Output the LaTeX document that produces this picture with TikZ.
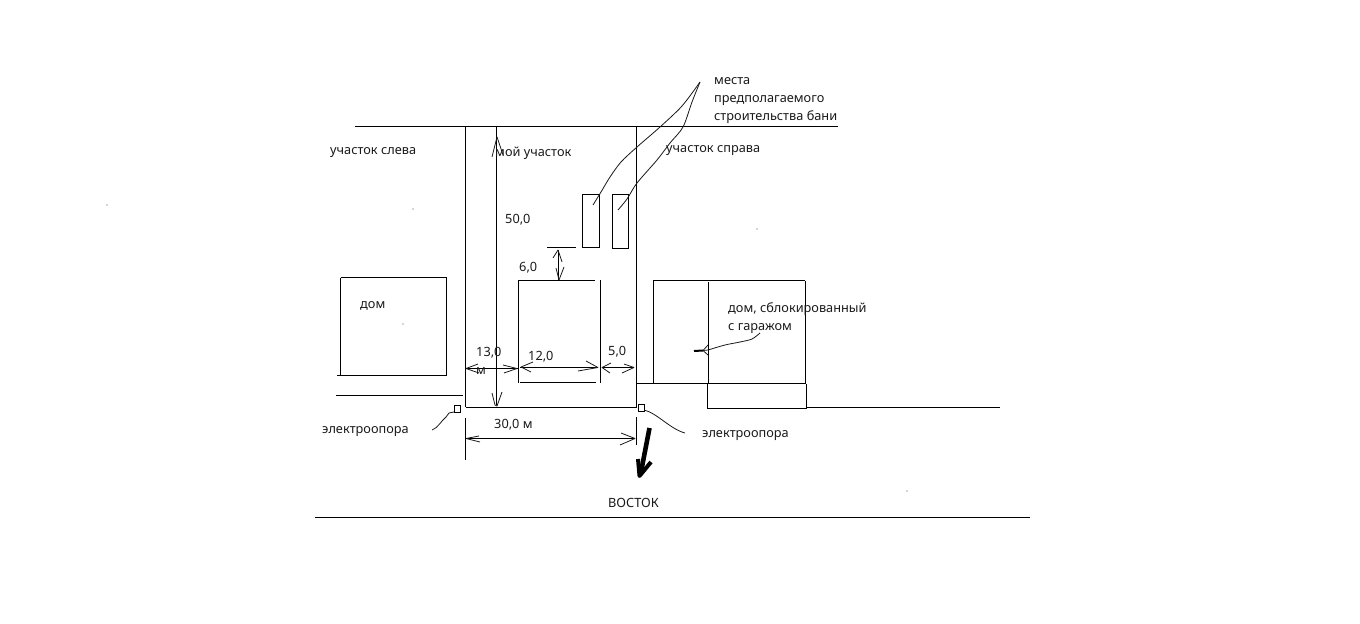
\documentclass[tikz,border=0pt]{standalone}
\usepackage{fontspec}
\setmainfont{Noto Sans}
\tikzset{
  plan/.style={line width=1bp,black},
  sketch/.style={line width=0.8bp,black!90,line join=round},
  lbl/.style={anchor=base west,inner sep=0pt,font=\fontsize{12.8}{15}\selectfont,text=black!90},
}
\begin{document}
\begin{tikzpicture}[x=1bp,y=-1bp]
\useasboundingbox (0,0) rectangle (1360,624);

% boundary lines of the plots
\draw[plan] (355,126.5) -- (838,126.5);
\draw[plan] (465.5,127) -- (465.5,407);
\draw[plan] (465.5,418) -- (465.5,460);
\draw[plan] (636.5,127) -- (636.5,407);
\draw[plan] (636.5,417) -- (636.5,445);
\draw[plan] (465.5,407.5) -- (636.5,407.5);
\draw[plan] (336,395.5) -- (463,395.5);
\draw[plan] (315,517.5) -- (1030,517.5);

% house on the left
\draw[plan] (340.5,277.5) -- (446.5,277.5) -- (446.5,375);
\draw[plan] (340.5,277.5) -- (340.5,375);
\draw[plan] (337,375.5) -- (446.5,375.5);

% my house
\draw[plan] (518,280.5) -- (595,280.5);
\draw[plan] (518.5,281) -- (518.5,383);
\draw[plan] (600.5,280) -- (600.5,383);
\draw[plan] (520,382.5) -- (596,382.5);

% house with garage on the right
\draw[plan] (653,280.5) -- (805,280.5);
\draw[plan] (653.5,281) -- (653.5,383);
\draw[plan] (708.5,282) -- (708.5,383);
\draw[plan] (805.5,281) -- (805.5,383);
\draw[plan] (636.5,383.5) -- (806,383.5);
\draw[plan] (707.5,384) -- (707.5,408.5) -- (806.5,408.5) -- (806.5,384);
\draw[plan] (806.5,407.5) -- (1000,407.5);

% places for the bath
\draw[plan] (582.5,194.5) rectangle (599.5,247.5);
\draw[plan] (612.5,194.5) rectangle (628.5,248.5);

% 50,0
\draw[plan] (496.5,127) -- (496.5,405);
\draw[sketch] (492,157) -- (497,137) -- (503,155);
\draw[sketch] (492,393) -- (495,405) -- (497,406) -- (502,392);

% 6,0
\draw[plan] (547,247.5) -- (576,247.5);
\draw[plan] (558.5,250) -- (558.5,280);
\draw[sketch] (553,258) -- (558,250) -- (562,262);
\draw[sketch] (556,268) -- (559,280) -- (564,267);

% 13,0
\draw[plan] (465.5,368.5) -- (518,368.5);
\draw[sketch] (478,364) -- (466,368.5) -- (479,373);
\draw[sketch] (503,365) -- (517,368.5) -- (504,373);

% 12,0
\draw[plan] (520,367.5) -- (598,367.5);
\draw[sketch] (533,362) -- (521,367) -- (531,372);
\draw[sketch] (586,361) -- (598,367.5) -- (578,371);

% 5,0
\draw[plan] (602,367.5) -- (634,367.5);
\draw[sketch] (611,363) -- (602,367.5) -- (610,373);
\draw[sketch] (624,364) -- (634,367.5) -- (622,373);

% 30,0
\draw[plan] (466,438.5) -- (635,438.5);
\draw[sketch] (479,436) -- (466,438.5) -- (480,442);
\draw[sketch] (621,433) -- (635,438.5) -- (620,445);

% poles
\draw[plan] (454.5,405.5) rectangle (460.5,412.5);
\draw[plan] (638.5,404.5) rectangle (644.5,411.5);
\draw[sketch] (432,430) .. controls (438,428) and (441,421) .. (446,417) -- (449,413) -- (454,412);
\draw[sketch] (644,410) .. controls (657,413) and (670,429) .. (685,433);

% leaders to the places for the bath
\draw[sketch] plot[smooth,tension=0.5] coordinates {(700,82) (682,106) (660,127) (637,147) (621,162) (610,177) (601,192) (593,205)};
\draw[sketch] plot[smooth,tension=0.5] coordinates {(700,82) (692,102) (683,127) (670,143) (657,160) (637,183) (627,199) (618,210)};

% leader to the garage
\draw[sketch] plot[smooth,tension=0.5] coordinates {(760,333) (752,339) (740,342) (725,345) (708,350)};
\draw[line width=2bp] (694,351) -- (703,350.5);
\draw[sketch] (708,350) -- (703,350.5);
\draw[sketch] (708,345) -- (703,350.5) -- (708,355);

% arrow to the east
\draw[line width=4.6bp] (649.5,428) -- (641,472);
\draw[line width=4bp,line join=round] (638,459) -- (639.5,476) -- (651,462);

% specks
\foreach \px/\py in {107/205,413/209,757/229,403/324,907/491}
\fill[black!70] (\px,\py) circle (0.6);

% labels
\node[lbl] (sleft) at (330,155) {участок слева};
\node[lbl] (smine) at (495,157) {мой участок};
\node[lbl] (sright) at (666,153) {участок справа};
\node[lbl] (mesta1) at (714,85) {места};
\node[lbl] (mesta2) at (714,103) {предполагаемого};
\node[lbl] (mesta3) at (714,121) {строительства бани};
\node[lbl] (dim50) at (505,223) {50,0};
\node[lbl] (dim6) at (519,271) {6,0};
\node[lbl] (dom) at (360,308) {дом};
\node[lbl] (dom1) at (728,312) {дом, сблокированный};
\node[lbl] (dom2) at (728,330) {с гаражом};
\node[lbl] (dim13) at (476,356) {13,0};
\node[lbl] (dim13m) at (476,374) {м};
\node[lbl] (dim12) at (528,360) {12,0};
\node[lbl] (dim5) at (608,355) {5,0};
\node[lbl] (dim30) at (494,428) {30,0 м};
\node[lbl] (pole1) at (322,433) {электроопора};
\node[lbl] (pole2) at (702,437) {электроопора};
\node[lbl] (east) at (608,507) {ВОСТОК};
\end{tikzpicture}
\end{document}
